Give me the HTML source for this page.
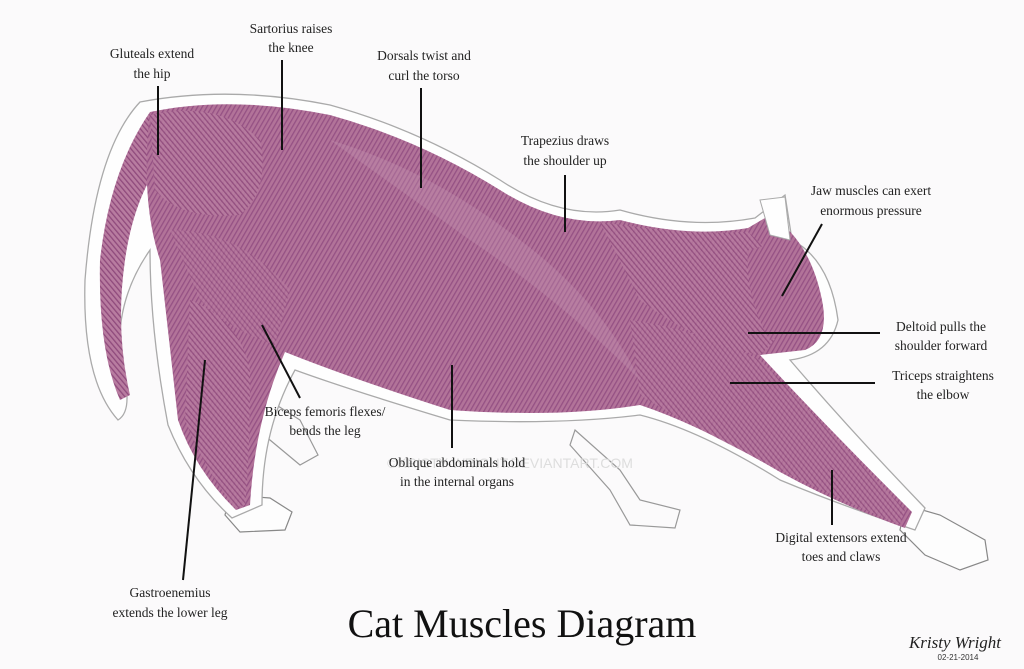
<!DOCTYPE html>
<html><head><meta charset="utf-8"><style>
html,body{margin:0;padding:0;background:#fbfafb;}
body{width:1024px;height:669px;overflow:hidden;position:relative;}
svg{position:absolute;left:0;top:0;}
.l{font-family:"Liberation Serif",serif;font-size:13.5px;fill:#222;text-anchor:middle;}
</style></head><body>
<svg width="1024" height="669" viewBox="0 0 1024 669">
<defs>
<pattern id="st" width="4" height="4" patternUnits="userSpaceOnUse" patternTransform="rotate(30)">
<rect width="4" height="4" fill="#b27399"/><rect width="1.3" height="4" fill="#955184"/>
</pattern>
<pattern id="st2" width="4" height="4" patternUnits="userSpaceOnUse" patternTransform="rotate(-40)">
<rect width="4" height="4" fill="#b87ca0"/><rect width="1.3" height="4" fill="#8f4a7c"/>
</pattern>
</defs>
<path d="M245,385 L300,420 L318,455 L300,465 L270,440 L240,410 Z" fill="#fbfafb" stroke="#999" stroke-width="1.2"/>
<path d="M575,430 L620,470 L640,500 L680,510 L675,528 L630,525 L610,490 L570,445 Z" fill="#fbfafb" stroke="#999" stroke-width="1.2"/>
<path d="M230,495 L270,498 L292,512 L285,530 L240,532 L225,515 Z" fill="#fdfdfd" stroke="#888" stroke-width="1.2"/>
<path d="M905,505 L940,515 L985,540 L988,560 L960,570 L925,555 L900,530 Z" fill="#fdfdfd" stroke="#888" stroke-width="1.2"/>
<path d="M140,102 Q230,85 330,105 Q420,130 500,180 Q560,220 620,210 Q690,230 755,218 L785,195 L792,240 Q830,260 838,320 Q830,355 790,360 Q850,430 925,508 L915,530 Q840,505 780,480 Q700,430 640,415 Q560,425 450,420 Q350,390 295,370 Q262,430 262,505 L232,518 Q190,480 168,425 Q150,330 150,250 Q115,300 120,360 Q135,410 118,420 Q82,380 85,280 Q95,150 140,102 Z" fill="#fefefe" stroke="#aaa" stroke-width="1.3"/>
<path d="M150,112 Q110,170 100,260 Q98,350 120,400 L130,395 Q115,330 125,260 Q135,190 170,150 Z" fill="url(#st2)"/>
<path d="M150,112 Q230,95 330,115 Q420,140 500,190 Q560,228 620,220 Q690,238 748,228 L770,215 Q810,240 822,300 Q830,340 805,350 L760,355 Q820,420 912,512 L905,528 Q840,505 780,472 Q700,425 640,405 Q560,418 450,410 Q350,378 285,352 Q255,420 250,505 L236,510 Q195,470 178,420 Q168,330 160,260 Q140,200 150,112 Z" fill="url(#st)"/>
<path d="M150,115 Q220,100 260,140 Q270,190 240,215 Q180,220 155,190 Z" fill="url(#st2)" opacity="0.85"/>
<path d="M170,230 Q240,230 290,290 L275,345 Q230,330 200,300 Z" fill="url(#st2)" opacity="0.6"/>
<path d="M190,300 Q240,320 250,370 Q250,460 245,505 L235,508 Q205,470 185,420 Z" fill="url(#st2)" opacity="0.8"/>
<path d="M600,222 Q690,235 748,232 L790,270 Q800,320 760,355 Q700,345 640,300 Z" fill="url(#st2)" opacity="0.8"/>
<path d="M630,320 Q700,330 760,360 Q820,420 905,510 L900,525 Q830,495 770,465 Q680,420 640,395 Z" fill="url(#st2)" opacity="0.7"/>
<path d="M748,250 L790,240 Q825,290 815,330 L770,340 Q745,300 748,250 Z" fill="url(#st)"/>
<path d="M330,140 Q430,170 520,240 Q600,300 640,380 Q560,300 470,240 Q400,190 330,140 Z" fill="#c493b3" opacity="0.35"/>
<path d="M760,200 L785,197 L790,240 L770,235 Z" fill="#fefefe" stroke="#aaa" stroke-width="1"/>
<g stroke="#111" stroke-width="2" fill="none">
<line x1="158" y1="86" x2="158" y2="155"/>
<line x1="282" y1="60" x2="282" y2="150"/>
<line x1="421" y1="88" x2="421" y2="188"/>
<line x1="565" y1="175" x2="565" y2="232"/>
<line x1="822" y1="224" x2="782" y2="296"/>
<line x1="880" y1="333" x2="748" y2="333"/>
<line x1="875" y1="383" x2="730" y2="383"/>
<line x1="832" y1="525" x2="832" y2="470"/>
<line x1="300" y1="398" x2="262" y2="325"/>
<line x1="452" y1="448" x2="452" y2="365"/>
<line x1="183" y1="580" x2="205" y2="360"/>
</g>
<text x="510" y="468" font-family="Liberation Sans,sans-serif" font-size="14" fill="#ddd" text-anchor="middle">©KRISTY-WRIGHT.DEVIANTART.COM</text>
<g class="l">
<text x="152" y="58">Gluteals extend</text><text x="152" y="78">the hip</text>
<text x="291" y="33">Sartorius raises</text><text x="291" y="52">the knee</text>
<text x="424" y="60">Dorsals twist and</text><text x="424" y="80">curl the torso</text>
<text x="565" y="145">Trapezius draws</text><text x="565" y="165">the shoulder up</text>
<text x="871" y="195">Jaw muscles can exert</text><text x="871" y="215">enormous pressure</text>
<text x="941" y="331">Deltoid pulls the</text><text x="941" y="350">shoulder forward</text>
<text x="943" y="380">Triceps straightens</text><text x="943" y="399">the elbow</text>
<text x="841" y="542">Digital extensors extend</text><text x="841" y="561">toes and claws</text>
<text x="325" y="416">Biceps femoris flexes/</text><text x="325" y="435">bends the leg</text>
<text x="457" y="467">Oblique abdominals hold</text><text x="457" y="486">in the internal organs</text>
<text x="170" y="597">Gastroenemius</text><text x="170" y="617">extends the lower leg</text>
</g>
<text x="522" y="637" font-family="Liberation Serif,serif" font-size="40" fill="#111" text-anchor="middle">Cat Muscles Diagram</text>
<text x="955" y="648" font-family="Liberation Serif,serif" font-style="italic" font-size="17" fill="#222" text-anchor="middle">Kristy Wright</text>
<text x="958" y="660" font-family="Liberation Sans,sans-serif" font-size="8" fill="#333" text-anchor="middle">02-21-2014</text>
</svg>
</body></html>
